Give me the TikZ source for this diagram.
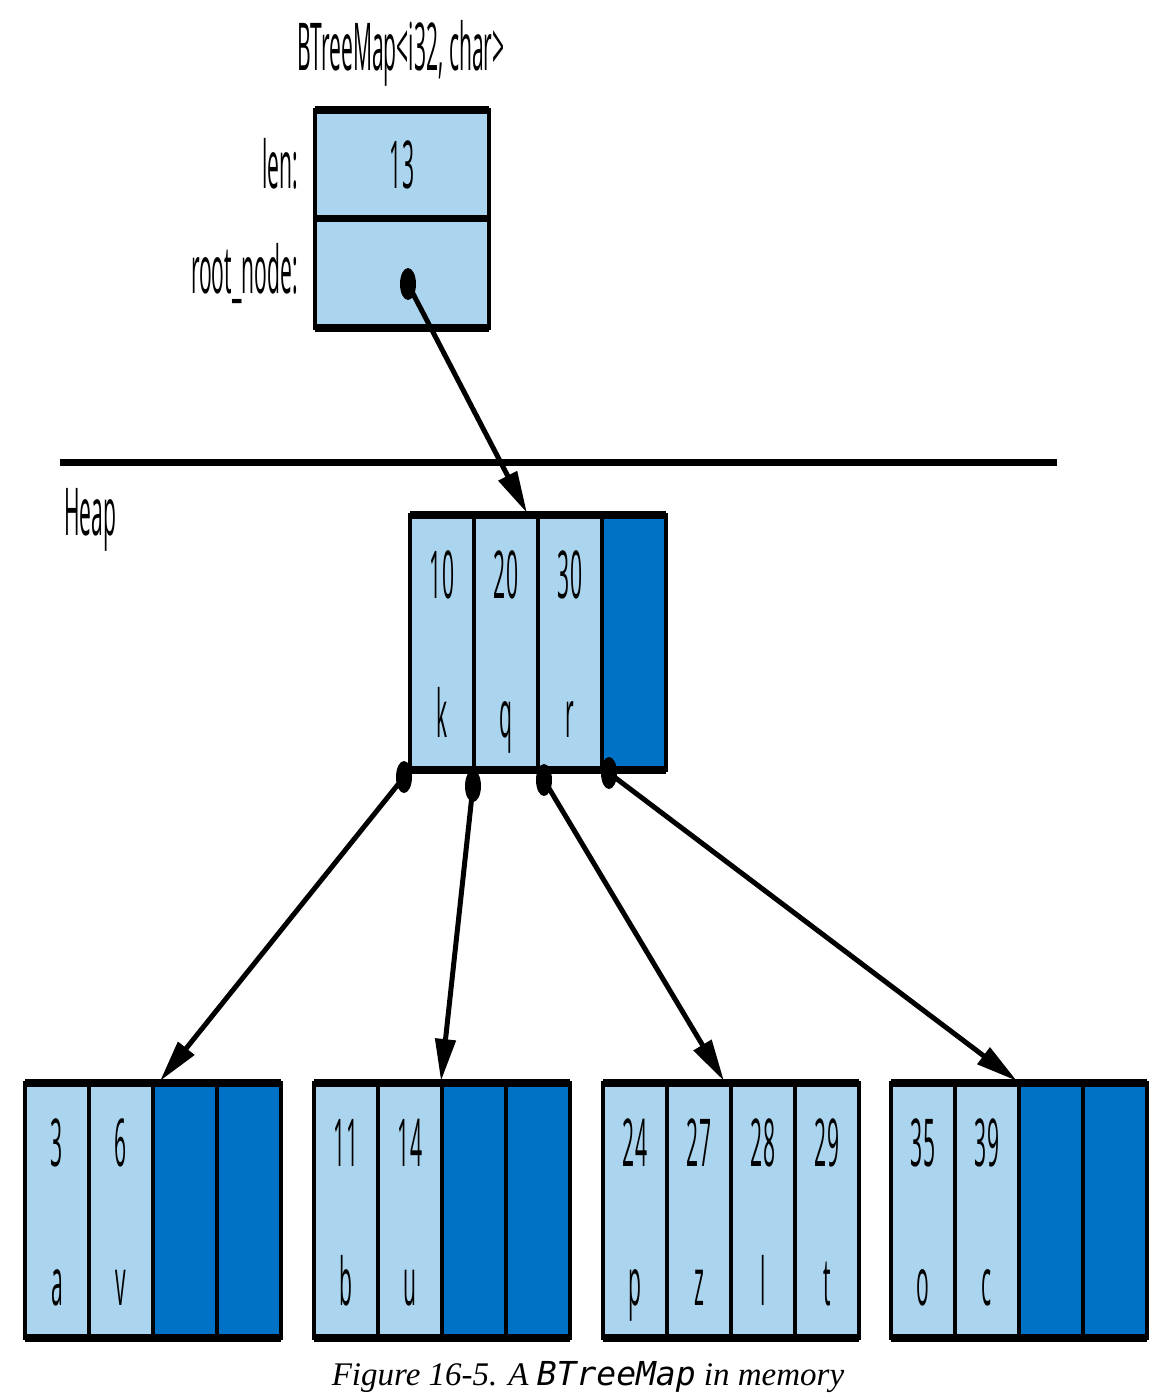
\documentclass[tikz,border=0pt]{standalone}
\usepackage{fontspec}
\setmainfont{Liberation Serif}
\newfontfamily\etroite[FakeStretch=0.32]{Open Sans}
\newfontfamily\codefont{DejaVu Sans Mono}
\usetikzlibrary{arrows.meta,shapes.geometric}

\definecolor{bleuclair}{HTML}{ABD5EE}
\definecolor{bleufonce}{HTML}{0072C6}

\tikzset{
  case/.style={draw=black, line width=4pt, fill=bleuclair, inner sep=0pt,
    outer sep=0pt, minimum width=64pt, minimum height=255pt, anchor=north west},
  vide/.style={case, fill=bleufonce},
  texte/.style={font=\etroite\fontsize{66}{70}\selectfont, inner sep=0pt, anchor=base},
  point/.style={ellipse, fill=black, inner sep=0pt, minimum width=16pt, minimum height=32pt},
  fleche/.style={line width=5pt, -{Triangle[length=42pt,width=20pt]}},
}

%% un noeud de l'arbre : nom, x, y, cles/valeurs
\newcommand{\bloc}[4]{%
  \foreach \c in {1,...,4}
    \node[vide] (#1-\c) at ({#2+64*(\c-1)},#3) {};
  \foreach \k/\v [count=\c] in {#4} {
    \node[case] (#1-\c) at ({#2+64*(\c-1)},#3) {};
    \node[texte] (#1-k\c) at ([yshift=-83pt]#1-\c.north) {\k};
    \node[texte] (#1-v\c) at ([yshift=-222pt]#1-\c.north) {\v};
  }
  \draw[line width=8pt] (#1-1.north west) -- (#1-4.north east);
  \draw[line width=8pt] (#1-1.south west) -- (#1-4.south east);
}

\begin{document}
\begin{tikzpicture}[x=1pt, y=-1pt]
\useasboundingbox (0,0) rectangle (1166,1398);

%% titre
\node[texte] (titre) at (401,70) {BTreeMap<i32, char>};

%% la structure BTreeMap
\node[case, fill=bleuclair, minimum width=174pt, minimum height=108pt] (len) at (315,110) {};
\node[case, fill=bleuclair, minimum width=174pt, minimum height=110pt] (racine) at (315,218) {};
\draw[line width=8pt] (len.north west) -- (len.north east);
\draw[line width=7pt] (racine.north west) -- (racine.north east);
\draw[line width=8pt] (racine.south west) -- (racine.south east);
\node[texte] (n13) at (402,188) {13};
\node[texte, anchor=base east] (lenlab) at (298,188) {len:};
\node[texte, anchor=base east] (rootlab) at (298,293) {root\_node:};

%% separation pile / tas
\draw[line width=7pt] (60,462) -- (1057,462);
\node[texte, anchor=base west] (heap) at (64,535) {Heap};

%% noeud racine et feuilles
\bloc{r}{410}{515}{10/k, 20/q, 30/r}
\bloc{f1}{25}{1083}{3/a, 6/v}
\bloc{f2}{314}{1083}{11/b, 14/u}
\bloc{f3}{603}{1083}{24/p, 27/z, 28/l, 29/t}
\bloc{f4}{891}{1083}{35/o, 39/c}

%% pointeurs
\node[point] (p0) at (408,284) {};
\node[point] (p1) at (404,777) {};
\node[point] (p2) at (473,786) {};
\node[point] (p3) at (544,780) {};
\node[point] (p4) at (609,773) {};
\coordinate (c0) at (527,513);
\coordinate (c1) at (160,1081);
\coordinate (c2) at (441,1081);
\coordinate (c3) at (724,1081);
\coordinate (c4) at (1017,1081);
\foreach \i in {0,...,4}
  \draw[fleche] (p\i.center) -- (c\i);

%% legende
\node[font=\fontsize{33}{38}\selectfont\itshape] (legende) at (588,1377)
  {Figure 16-5. A {\codefont\itshape BTreeMap} in memory};

\end{tikzpicture}
\end{document}
